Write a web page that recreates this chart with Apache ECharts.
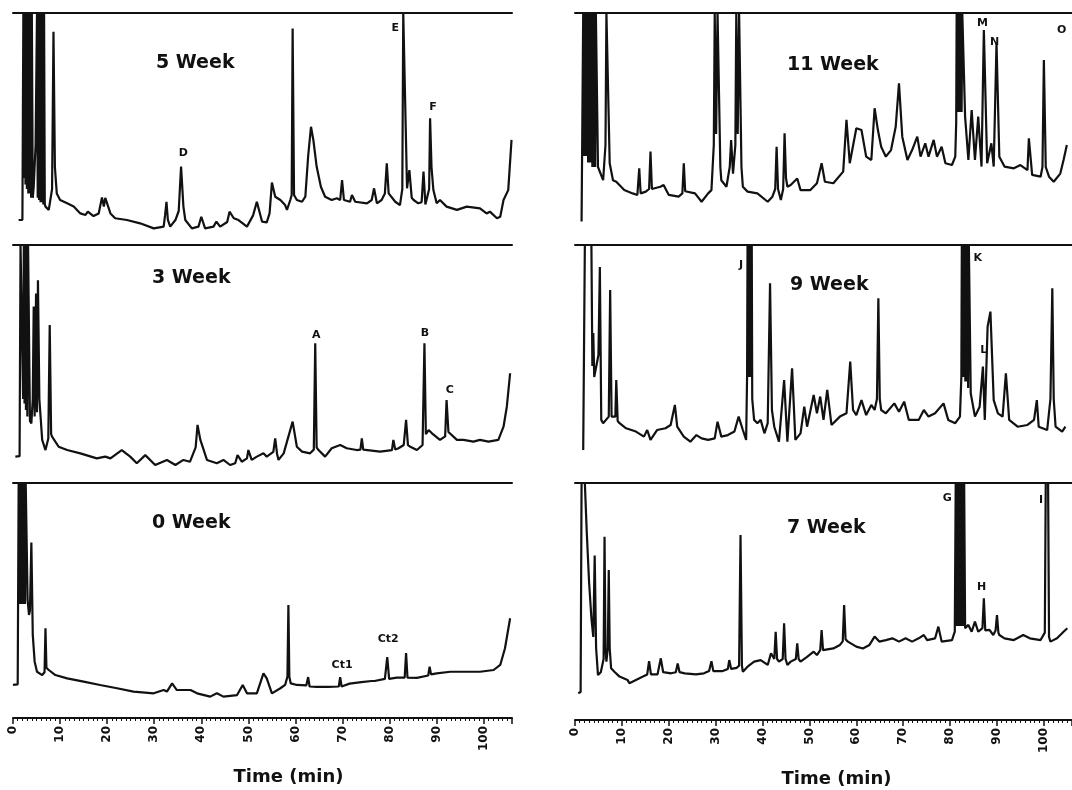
<!DOCTYPE html>
<html>
<head>
<meta charset="utf-8">
<script src="https://cdn.jsdelivr.net/npm/echarts@6/dist/echarts.min.js"></script>
<style>
  html, body { margin: 0; background: #fff; }
  #main { width: 1072px; height: 790px; }
</style>
</head>
<body>
<div id="main"></div>
<script>
// chromatogram traces: [time (min), detector response in % of full scale]
const week5 = [[1.2,5.9],[2.0,6],[2.2,100],[2.35,25],[2.5,100],[2.65,22],[2.8,100],[2.95,20],[3.1,100],[3.25,18],[3.4,100],[3.55,18],[3.7,100],[3.85,16],[4.0,100],[4.2,16],[4.4,21],[4.8,40],[5.1,100],[5.25,16],[5.4,100],[5.55,15],[5.7,100],[5.85,14],[6.0,100],[6.15,14],[6.3,100],[6.45,13],[6.6,100],[6.75,13],[6.9,12],[7.6,10.5],[8.3,20],[8.6,91.5],[8.9,30],[9.3,18],[10.0,15],[11.5,13.5],[12.9,12],[14.3,8.9],[15.4,8.2],[15.9,9.7],[17.1,7.7],[18.2,8.9],[18.9,16.2],[19.3,12],[19.6,16],[20.0,16.2],[20.7,8.9],[21.7,6.7],[24.2,5.9],[27.0,4.4],[29.9,2.1],[32.0,2.9],[32.3,8],[32.6,14.2],[32.9,6],[33.4,2.9],[34.5,5.9],[35.2,10],[35.7,30.2],[36.2,12],[36.6,5.9],[38.0,2.1],[39.4,2.9],[40.0,7.4],[40.8,2.1],[42.6,2.9],[43.2,5.2],[44.0,2.9],[45.5,5],[46.0,9.7],[46.9,6.7],[47.9,5.9],[49.7,2.9],[51.0,8],[51.8,14.2],[52.9,5.2],[53.9,4.8],[54.5,8.9],[55.0,22.9],[55.7,16.5],[56.8,15],[57.8,12.7],[58.2,10.5],[58.9,15],[59.2,17.3],[59.4,93],[59.7,17.3],[60.3,15],[61.4,14.2],[62.1,16.5],[62.7,35],[63.3,48.3],[63.8,42.3],[64.5,30.2],[65.4,21],[66.3,16.5],[67.7,15],[68.8,15.8],[69.5,15],[69.9,24.1],[70.3,15],[71.6,14.2],[72.0,17.3],[72.7,14.2],[75.2,13.5],[76.2,15],[76.7,20.3],[77.3,13.5],[78.3,15],[79.0,18],[79.4,31.7],[79.8,18],[81.2,14.2],[82.2,12.7],[82.7,20],[82.9,100],[83.3,100],[83.7,20.3],[84.2,28.6],[84.7,16],[85.1,15],[86.1,13.5],[86.8,14],[87.2,27.9],[87.6,13],[87.9,12.7],[88.4,20],[88.6,52.1],[88.9,30],[89.3,19.5],[90.0,13.5],[90.7,15],[92.1,12],[94.3,10.5],[96.4,12],[99.2,11.2],[100.6,8.9],[101.3,9.7],[102.8,6.7],[103.5,7.4],[104.2,15],[105.2,19.5],[105.9,42.3]];

const week3 = [[0.5,3.8],[1.4,4],[1.6,100],[2.0,100],[2.15,30],[2.3,100],[2.45,28],[2.6,100],[2.75,25],[2.9,100],[3.05,22],[3.2,100],[3.3,100],[3.6,20],[3.9,18.9],[4.2,30],[4.4,72],[4.6,22],[4.9,78],[5.1,24],[5.3,84],[5.6,30],[6.2,11.4],[6.9,6.8],[7.5,12],[7.8,63.6],[8.1,14],[8.3,12.9],[9.7,8.3],[11.5,6.8],[14.3,5.3],[17.8,3.0],[19.6,3.8],[20.7,3.0],[23.1,6.8],[24.9,3.8],[26.3,0.8],[28.1,4.5],[30.2,0],[32.7,2.3],[34.5,0],[36.2,2.3],[37.6,1.5],[38.8,8],[39.2,18.2],[39.8,11.4],[41.2,2.3],[43.3,0.8],[44.7,2.3],[46.1,0],[47.2,0.8],[47.7,4.5],[48.6,1.5],[49.7,3],[50.0,6.8],[50.7,2.3],[51.8,3.8],[53.2,5.3],[53.9,3.8],[55.3,6],[55.7,12.1],[56.1,5],[56.4,2.3],[57.5,5.3],[58.5,12.9],[59.4,19.7],[60.3,8.3],[61.4,6.1],[63.1,5.3],[63.9,7],[64.2,55.3],[64.5,8],[64.9,6.8],[66.3,3.8],[67.7,7.6],[69.5,9.1],[70.9,7.6],[73.0,6.8],[73.8,7],[74.1,12.1],[74.4,7],[74.8,6.8],[78.0,6.1],[80.5,6.8],[80.8,11.4],[81.2,7],[81.9,7.6],[83.0,9.1],[83.5,20.5],[83.9,9],[84.4,8.3],[85.8,6.8],[87.0,9.1],[87.4,55.3],[87.7,14],[88.3,15.9],[89.0,14.4],[90.7,11.4],[91.8,13],[92.1,29.5],[92.5,15],[92.9,15.9],[94.3,11.4],[95.7,11.4],[97.8,10.6],[99.2,11.4],[101.0,10.6],[103.1,11.4],[104.2,17.4],[104.9,26.5],[105.6,41.7]];

const week0 = [[0,8.2],[1.0,8.5],[1.2,100],[1.35,45],[1.5,100],[1.65,45],[1.8,100],[1.95,45],[2.1,100],[2.25,45],[2.4,100],[2.55,45],[2.7,100],[2.8,100],[3.1,47],[3.4,40],[3.6,42],[3.9,73],[4.2,31],[4.6,18.8],[5.1,14.2],[6.2,12.7],[6.7,14],[6.9,34],[7.1,16],[7.6,15],[9.0,12.7],[11.5,11.2],[15.0,9.7],[18.5,8.2],[22.1,6.7],[25.6,5.2],[29.9,4.4],[32.0,5.9],[32.7,5.2],[33.8,8.9],[34.8,5.9],[37.7,5.9],[39.1,4.4],[41.9,2.9],[43.3,4.4],[44.7,2.9],[47.6,3.6],[48.8,8.2],[49.7,4.4],[51.8,4.4],[53.2,13.5],[53.9,11.2],[55.0,4.4],[56.8,6.7],[57.8,8.2],[58.3,12],[58.5,44.5],[58.7,12],[59.0,8.9],[60.3,8.2],[62.3,8],[62.7,11.8],[63.0,7.5],[64.5,7.3],[67.0,7.3],[69.2,7.5],[69.5,11.8],[69.8,7.5],[71.5,8.8],[74.0,9.5],[76.2,10],[76.5,10.9],[76.8,10],[79.0,11],[79.5,20.9],[79.9,11],[81.5,11.5],[83.2,11.5],[83.5,22.7],[83.8,11.5],[85.8,11.4],[88.2,12.5],[88.5,16.5],[88.8,13],[90.0,13.5],[92.9,14.2],[96.4,14.2],[99.2,14.2],[102.1,15],[103.5,17.3],[104.5,24.8],[105.6,38.5]];

const week11 = [[1.4,5.2],[1.6,6],[1.75,100],[1.9,35],[2.05,100],[2.2,35],[2.35,100],[2.5,35],[2.65,100],[2.8,32],[2.95,100],[3.1,32],[3.25,100],[3.4,32],[3.55,100],[3.7,30],[3.85,100],[4.0,30],[4.15,100],[4.3,30],[4.45,100],[4.6,100],[4.9,30],[6.0,24],[6.5,40],[6.7,100],[6.9,100],[7.4,31.7],[8.1,24],[8.8,23.3],[10.5,19.5],[12.3,18],[13.3,17.3],[13.7,29.4],[14.0,18],[15.1,18.8],[15.8,20],[16.1,37],[16.4,20],[16.5,19.5],[18.2,21],[18.9,21.8],[20.0,17.3],[22.1,16.5],[22.9,18],[23.2,31.7],[23.5,19],[23.9,18.8],[25.6,18],[27.0,14.2],[28.4,18],[29.1,19.5],[29.6,40],[29.8,100],[30.1,45],[30.4,100],[30.6,100],[31.0,30],[31.2,24],[32.3,21],[33.0,30],[33.3,42.3],[33.7,27],[34.2,40],[34.4,100],[34.7,45],[35.0,100],[35.2,100],[35.5,30],[35.8,21],[36.8,18.8],[38.9,18],[41.1,14.2],[42.1,16.5],[42.7,20],[43.0,39.2],[43.3,20],[43.9,15],[44.4,20],[44.7,45.3],[45.0,25],[45.3,21],[46.0,21.8],[47.4,24.8],[48.1,19.5],[50.2,19.5],[51.6,22.6],[52.6,31.7],[53.3,23.3],[55.1,22.6],[57.2,27.9],[57.9,51.4],[58.6,31.7],[60.0,47.6],[61.1,46.8],[62.1,34.7],[63.2,33.2],[63.9,56.7],[64.6,46.8],[65.3,39.2],[66.3,34.7],[67.4,37.7],[68.4,48.3],[69.1,68],[69.8,43.8],[70.9,33.2],[71.9,37.7],[73.0,43.8],[73.7,34.7],[74.7,40.8],[75.4,34.7],[76.5,42.3],[77.2,34.7],[78.2,39.2],[79.0,31.7],[80.4,30.9],[81.1,34.7],[81.3,50],[81.4,100],[81.55,55],[81.7,100],[81.85,55],[82.0,100],[82.15,55],[82.3,100],[82.45,55],[82.6,100],[82.8,100],[83.2,52.9],[83.9,33.2],[84.6,55.9],[85.3,33.2],[86.0,52.9],[86.7,30.2],[87.2,92.3],[87.9,31.7],[88.8,40.8],[89.3,30.2],[89.9,86.2],[90.5,34.7],[91.6,30.2],[93.6,29.4],[95.0,30.9],[96.5,28.6],[96.8,43],[97.5,26.4],[99.3,25.6],[99.7,30],[100.0,78.6],[100.4,30],[101.1,25.6],[102.1,23.3],[103.5,27],[104.2,33.2],[104.9,40]];

const week9 = [[1.75,6.8],[2.0,7],[2.1,100],[3.5,100],[3.7,45],[3.9,60],[4.1,40],[4.5,40],[5.0,50],[5.3,90],[5.6,20.5],[6.0,19],[7.2,22],[7.5,79.5],[7.8,22],[8.1,22],[8.6,22],[8.8,38.6],[9.1,20],[9.5,19],[10.9,16.7],[13.0,15.2],[14.7,12.9],[15.4,15.9],[16.1,11.4],[17.5,15.9],[19.3,16.7],[20.4,18.2],[21.3,27.3],[21.8,17.4],[23.2,12.9],[24.6,10.6],[25.9,13.6],[27.0,12.1],[28.4,11.4],[29.8,12.1],[30.4,19.7],[31.2,12.9],[32.6,13.6],[34.0,15.2],[34.9,22],[35.8,15.9],[36.5,11.4],[36.7,40],[36.8,100],[36.95,40],[37.1,100],[37.25,40],[37.4,100],[37.55,40],[37.7,100],[37.8,30],[38.2,20.5],[38.9,19],[39.6,20.5],[40.4,14.4],[41.1,19],[41.6,82.6],[42.0,25],[42.5,17.4],[43.5,10.6],[44.6,38.6],[45.3,10.6],[46.3,43.9],[47.0,11.4],[48.1,14.4],[48.9,26.5],[49.5,17.4],[50.9,31.8],[51.6,23.5],[52.3,31.1],[53.0,20.5],[53.8,34.1],[54.7,18.2],[56.5,22],[57.9,23.5],[58.7,47],[59.3,25],[60.0,22.7],[61.1,29.5],[62.1,22.7],[63.2,27.3],[63.9,25],[64.4,30],[64.7,75.8],[65.0,30],[65.3,25],[66.3,23.5],[68.1,28],[69.1,24.2],[70.2,28.8],[71.2,20.5],[73.3,20.5],[74.4,25],[75.4,22],[76.8,23.5],[78.6,28],[79.6,20.5],[81.1,19],[82.1,22],[82.4,40],[82.5,100],[82.65,40],[82.8,100],[82.95,40],[83.1,100],[83.25,38],[83.4,100],[83.55,38],[83.7,100],[83.85,35],[84.0,100],[84.2,100],[84.4,32.6],[85.3,22],[86.3,26.5],[87.0,44.7],[87.4,20.5],[88.0,62.9],[88.6,69.7],[89.3,29.5],[90.2,23.5],[91.2,22],[91.9,41.7],[92.6,20.5],[94.4,17.4],[96.5,18.2],[97.9,20.5],[98.5,29.5],[98.9,17.4],[100.7,15.9],[101.4,30],[101.8,80.3],[102.1,30],[102.5,17.4],[103.9,15.2],[104.6,17.4]];

const week7 = [[0.7,4.4],[1.2,5],[1.4,100],[2.1,100],[2.5,78],[3.0,55],[3.5,38.5],[3.9,30],[4.2,67],[4.5,25],[4.9,12.7],[5.5,14],[6.1,20],[6.3,75.6],[6.5,25],[6.7,18.8],[7.0,25],[7.2,60.5],[7.4,25],[7.7,15.8],[8.4,14.2],[9.5,12],[11.2,10.5],[11.6,9],[13.0,10.5],[14.5,12],[15.4,13],[15.8,19],[16.2,13],[17.6,13],[18.3,20.3],[18.8,14],[20.5,13.5],[21.5,14],[21.9,18],[22.3,14],[23.4,13.5],[25.8,13],[27.5,13.5],[28.6,14.5],[29.1,19],[29.5,14.5],[31.5,14.5],[32.6,15.5],[32.9,19.5],[33.3,15.5],[34.5,16],[35.0,17],[35.3,76.4],[35.6,17],[35.8,14.2],[36.8,16.5],[38.2,18.8],[39.6,19.5],[41.1,17.3],[41.8,22.6],[42.5,20],[42.8,32.4],[43.1,20],[43.5,18.8],[44.3,20],[44.6,36.2],[44.9,20],[45.3,17.3],[46.0,18.8],[47.1,20],[47.4,27.1],[47.7,20],[48.1,18.8],[49.5,21],[50.9,23.3],[51.6,21.8],[52.3,24],[52.6,33.2],[52.9,24],[53.3,23.3],[55.1,24.8],[56.5,26.4],[57.1,28],[57.4,44.5],[57.7,29],[58.2,27.9],[60.0,25.6],[61.4,24.8],[62.8,26.4],[63.9,30.2],[64.9,27.9],[66.3,28.6],[67.7,29.4],[69.1,27.9],[70.5,29.4],[71.9,27.9],[73.3,29.4],[74.4,30.9],[75.1,28.6],[76.8,29.4],[77.5,34.7],[78.2,27.9],[80.4,28.6],[81.0,32.4],[81.2,100],[81.35,35],[81.5,100],[81.65,35],[81.8,100],[81.95,35],[82.1,100],[82.25,35],[82.4,100],[82.55,35],[82.7,100],[82.85,35],[83.0,100],[83.2,34],[83.9,35.5],[84.6,32.4],[85.3,37],[86.0,32.4],[86.9,34],[87.2,47.6],[87.5,33],[87.7,32.4],[88.4,33.2],[89.2,30.9],[89.7,33],[90.0,40],[90.3,32],[90.5,30.9],[91.6,29.4],[93.6,28.6],[95.6,30.9],[97.0,29.4],[99.3,28.6],[100.2,32],[100.4,100],[100.9,100],[101.1,30],[101.4,27.9],[102.8,29.4],[104.2,32.4],[105,34]];

// peak letters: [text, time, response]
const labels5 = [['D', 36.2, 36.4], ['E', 81.2, 93.2], ['F', 89.2, 57.3]];
const labels3 = [['A', 64.4, 59.1], ['B', 87.5, 60], ['C', 92.8, 34]];
const labels0 = [['Ct1', 69.9, 17.3], ['Ct2', 79.7, 29]];
const labels11 = [['M', 86.9, 95.5], ['N', 89.5, 86.8], ['O', 103.8, 92.3]];
const labels9 = [['J', 35.4, 90.9], ['K', 85.9, 94], ['L', 87.2, 52.3]];
const labels7 = [['G', 79.4, 93.2], ['H', 86.7, 52.7], ['I', 99.4, 92.3]];

const panelTitles = ['5 Week', '3 Week', '0 Week', '11 Week', '9 Week', '7 Week'];
const panelData = [week5, week3, week0, week11, week9, week7];
const panelLabels = [labels5, labels3, labels0, labels11, labels9, labels7];

const TIME_MAX = 106;
const INK = '#111';
const FONT = 'DejaVu Sans';

// grid geometry
const rowTop = [13, 245, 483];
const rowH = 220;
const colLeft = [13, 575];
const colW = [499, 503];
const titlePos = [[156, 54], [152, 269], [152, 514], [787, 56], [790, 276], [787, 519]];

const grids = [], xAxes = [], yAxes = [], series = [], titles = [];

panelData.forEach((data, i) => {
  const col = i < 3 ? 0 : 1;
  const row = i % 3;
  const isBottom = row === 2;
  grids.push({ left: colLeft[col], top: rowTop[row], width: colW[col], height: rowH });

  // full-scale line along the top of each trace
  xAxes.push({
    gridIndex: i, type: 'value', min: 0, max: TIME_MAX, position: 'top',
    axisLine: { show: true, onZero: false, lineStyle: { color: INK, width: 2 } },
    axisTick: { show: false }, axisLabel: { show: false }, splitLine: { show: false }
  });
  let xIdx = xAxes.length - 1;

  if (isBottom) {
    xAxes.push({
      gridIndex: i, type: 'value', min: 0, max: TIME_MAX, interval: 10,
      position: 'bottom', offset: col === 0 ? 15 : 17,
      axisLine: { show: true, onZero: false, lineStyle: { color: INK, width: 2 } },
      axisTick: { show: true, length: 6, lineStyle: { color: INK, width: 1.5 } },
      minorTick: { show: true, splitNumber: 10, length: 3, lineStyle: { color: INK, width: 1 } },
      splitLine: { show: false },
      axisLabel: {
        rotate: 90, margin: 8, fontSize: 12, fontWeight: 'bold', fontFamily: FONT, color: INK,
        formatter: v => (v % 10 === 0 ? String(v) : '')
      },
      name: 'Time (min)', nameLocation: 'middle', nameGap: 50,
      nameTextStyle: {
        fontSize: 18, fontWeight: 'bold', fontFamily: FONT, color: INK,
        padding: [0, 0, 0, col === 0 ? 52 : 26]
      }
    });
    xIdx = xAxes.length - 1;
  }

  yAxes.push({ gridIndex: i, type: 'value', min: 0, max: 100, show: false });

  series.push({
    type: 'line', xAxisIndex: xIdx, yAxisIndex: i, data: data,
    symbol: 'none', clip: true, animation: false,
    lineStyle: { color: INK, width: 2.2 },
    markPoint: {
      symbol: 'circle', symbolSize: 1, itemStyle: { color: 'rgba(0,0,0,0)' },
      label: { show: true, position: 'inside', formatter: '{b}', fontSize: 11, fontWeight: 'bold', fontFamily: FONT, color: INK },
      data: panelLabels[i].map(l => ({ name: l[0], coord: [l[1], l[2]] }))
    }
  });

  titles.push({
    text: panelTitles[i], left: titlePos[i][0], top: titlePos[i][1], padding: 0,
    textStyle: { fontSize: 19, fontWeight: 'bold', fontFamily: FONT, color: INK }
  });
});

const chart = echarts.init(document.getElementById('main'));
chart.setOption({
  backgroundColor: '#fff',
  animation: false,
  title: titles,
  grid: grids,
  xAxis: xAxes,
  yAxis: yAxes,
  series: series
});
</script>
</body>
</html>
